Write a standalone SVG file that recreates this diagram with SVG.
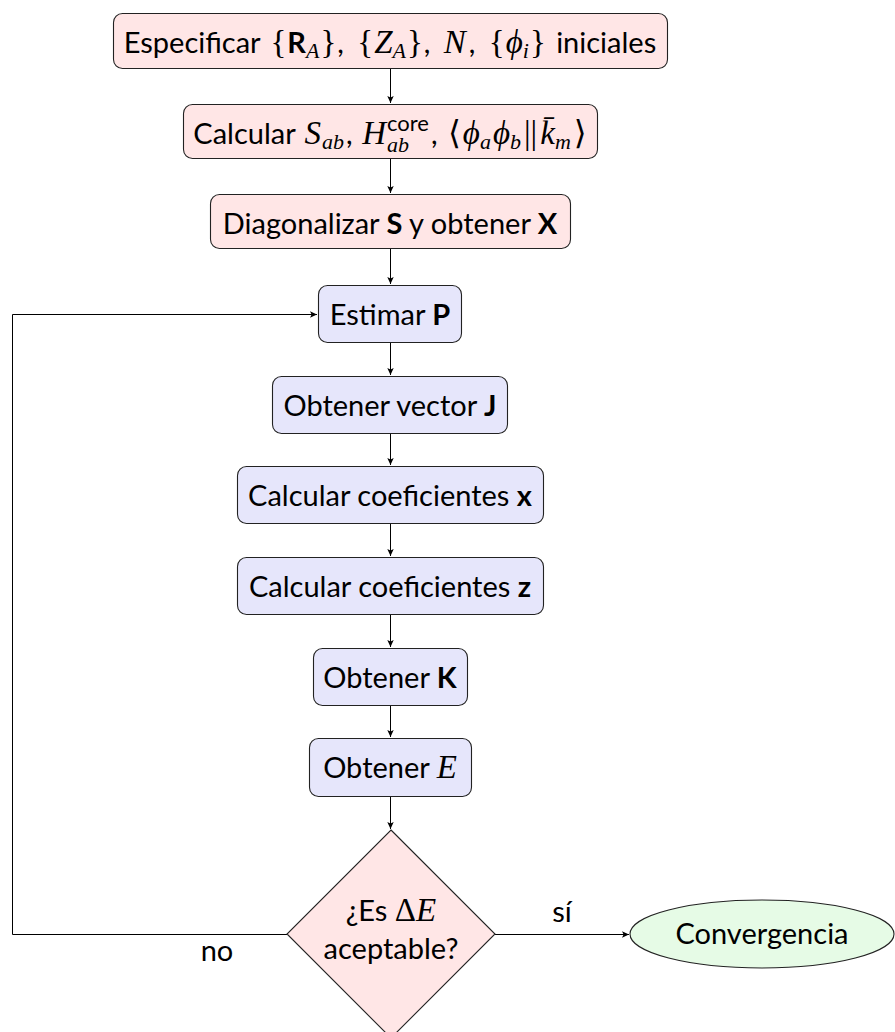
<svg xmlns="http://www.w3.org/2000/svg" width="895" height="1032" viewBox="0 0 895 1032">
<defs>
<marker id="ah" markerWidth="10" markerHeight="8" refX="7" refY="4" orient="auto" markerUnits="userSpaceOnUse">
<path d="M0,0.8 L7,4 L0,7.2 L1.6,4 Z" fill="#000"/>
</marker>
</defs>
<style>
.box{stroke:#222;stroke-width:1.1}
.pink{fill:#ffe6e6}
.blue{fill:#e6e6fb}
.green{fill:#e6fbe6}
.t{font-family:Lato,"Liberation Sans",sans-serif;font-size:29px;fill:#000}
.m{font-family:"Liberation Serif","DejaVu Serif",serif;font-style:italic;font-size:33px}
.r{font-family:"Liberation Serif","DejaVu Serif",serif;font-style:normal;font-size:33px}
.b{font-weight:bold}
.s{font-size:22px}
.c{fill:none;stroke:#000;stroke-width:1}
</style>
<rect width="895" height="1032" fill="#fff"/>
<g id="connectors">
<path class="c" d="M390.5,68 V103" marker-end="url(#ah)"/>
<path class="c" d="M390.5,158 V193" marker-end="url(#ah)"/>
<path class="c" d="M390.5,248 V284" marker-end="url(#ah)"/>
<path class="c" d="M390.5,343 V375" marker-end="url(#ah)"/>
<path class="c" d="M390.5,433 V465" marker-end="url(#ah)"/>
<path class="c" d="M390.5,524 V556" marker-end="url(#ah)"/>
<path class="c" d="M390.5,615 V647" marker-end="url(#ah)"/>
<path class="c" d="M390.5,706 V737" marker-end="url(#ah)"/>
<path class="c" d="M390.5,797 V829" marker-end="url(#ah)"/>
<path class="c" d="M287,934.5 H12.5 V314.5 H317" marker-end="url(#ah)"/>
<path class="c" d="M495,934.5 H629" marker-end="url(#ah)"/>
<text class="t" x="217" y="961" text-anchor="middle">no</text>
<text class="t" x="562" y="922" text-anchor="middle">sí</text>
</g>
<g id="n1">
<rect class="box pink" x="113.5" y="13.5" width="554" height="55" rx="9"/>
<text class="t" x="390" y="53" text-anchor="middle">Especificar <tspan class="r" dx="3">{</tspan><tspan class="b" dx="1">R</tspan><tspan class="m s" dy="5">A</tspan><tspan class="r" dx="1" dy="-5">}</tspan><tspan dx="1">, </tspan><tspan class="r" dx="6">{</tspan><tspan class="m" dx="1">Z</tspan><tspan class="m s" dy="5">A</tspan><tspan class="r" dx="1" dy="-5">}</tspan><tspan dx="1">, </tspan><tspan class="m" dx="6">N</tspan><tspan dx="3">, </tspan><tspan class="r" dx="6">{</tspan><tspan class="m" dx="1">ϕ</tspan><tspan class="m s" dy="5">i</tspan><tspan class="r" dx="1" dy="-5">}</tspan><tspan dx="3"> iniciales</tspan></text>
</g>
<g id="n2">
<rect class="box pink" x="183.5" y="104.5" width="414" height="54" rx="9"/>
<text class="t" x="390" y="144" text-anchor="middle">Calcular <tspan class="m" dx="2">S</tspan><tspan class="m s" dx="1" dy="5">ab</tspan><tspan dx="2" dy="-5">, </tspan><tspan class="m" dx="2">H</tspan><tspan class="m s" dx="1" dy="8">ab</tspan><tspan class="s" dx="-22" dy="-21">core</tspan><tspan dx="2" dy="13">, </tspan><tspan class="r" dx="3">⟨</tspan><tspan class="m" dx="2">ϕ</tspan><tspan class="m s" dy="5">a</tspan><tspan class="m" dx="2" dy="-5">ϕ</tspan><tspan class="m s" dy="5">b</tspan><tspan class="r" dx="3" dy="-5">||</tspan><tspan class="m" dx="3">k̄</tspan><tspan class="m s" dy="5">m</tspan><tspan class="r" dx="3" dy="-5">⟩</tspan></text>
</g>
<g id="n3">
<rect class="box pink" x="210.5" y="194.5" width="360" height="54" rx="9"/>
<text class="t" x="390" y="234" text-anchor="middle">Diagonalizar <tspan class="b">S</tspan> y obtener <tspan class="b">X</tspan></text>
</g>
<g id="n4">
<rect class="box blue" x="318.5" y="285.5" width="143" height="57" rx="9"/>
<text class="t" x="390" y="325" text-anchor="middle">Estimar <tspan class="b">P</tspan></text>
</g>
<g id="n5">
<rect class="box blue" x="272.5" y="376.5" width="235" height="57" rx="9"/>
<text class="t" x="390" y="416" text-anchor="middle">Obtener vector <tspan class="b">J</tspan></text>
</g>
<g id="n6">
<rect class="box blue" x="237.5" y="466.5" width="306" height="57" rx="9"/>
<text class="t" x="390" y="506" text-anchor="middle">Calcular coeficientes <tspan class="b">x</tspan></text>
</g>
<g id="n7">
<rect class="box blue" x="237.5" y="557.5" width="306" height="57" rx="9"/>
<text class="t" x="390" y="597" text-anchor="middle">Calcular coeficientes <tspan class="b">z</tspan></text>
</g>
<g id="n8">
<rect class="box blue" x="313.5" y="648.5" width="154" height="57" rx="9"/>
<text class="t" x="390" y="688" text-anchor="middle">Obtener <tspan class="b">K</tspan></text>
</g>
<g id="n9">
<rect class="box blue" x="309.5" y="738.5" width="162" height="58" rx="9"/>
<text class="t" x="390" y="778" text-anchor="middle">Obtener <tspan class="m">E</tspan></text>
</g>
<g id="n10">
<path class="box pink" d="M391,830 L495,934 L391,1038 L287,934 Z"/>
<text class="t" x="391" y="921" text-anchor="middle">¿Es <tspan class="r">Δ</tspan><tspan class="m">E</tspan></text>
<text class="t" x="391" y="959" text-anchor="middle">aceptable?</text>
</g>
<g id="n11">
<ellipse class="box green" cx="762" cy="934" rx="132" ry="34"/>
<text class="t" x="762" y="944" text-anchor="middle">Convergencia</text>
</g>
</svg>
